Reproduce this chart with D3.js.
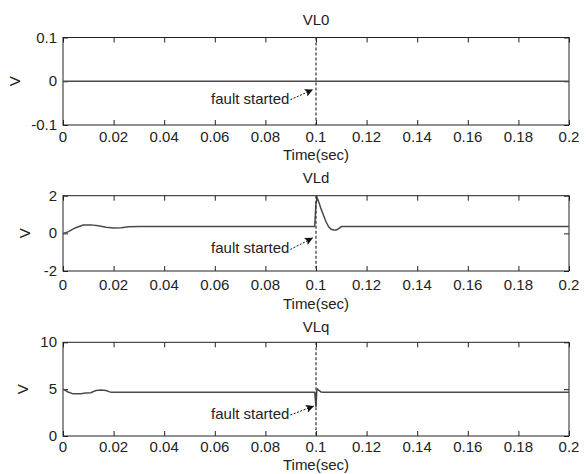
<!DOCTYPE html>
<html>
<head>
<meta charset="utf-8">
<script src="https://cdn.jsdelivr.net/npm/d3@7"></script>
<style>
    body { margin: 0; background: #fff; }
    svg text { font-family: "Liberation Sans", Arial, sans-serif; font-size: 15px; fill: #222; }
</style>
</head>
<body>
<div id="chart"></div>
<script>

// --- data ---
var xTicks = [0, 0.02, 0.04, 0.06, 0.08, 0.1, 0.12, 0.14, 0.16, 0.18, 0.2];
var faultTime = 0.1;

// VL0
var vl0Time = [0, 0.2];
var vl0Value = [0, 0];
var vl0Ticks = [-0.1, 0, 0.1];

// VLd
var vldTime = [0, 0.002, 0.005, 0.008, 0.011, 0.014, 0.017, 0.02, 0.023, 0.026, 0.03, 0.06, 0.0995,
    0.1, 0.1005, 0.101, 0.102, 0.103, 0.104, 0.105, 0.106, 0.107, 0.108, 0.109, 0.11, 0.15, 0.2];
var vldValue = [0, 0.08, 0.3, 0.44, 0.45, 0.4, 0.33, 0.29, 0.3, 0.35, 0.37, 0.37, 0.37,
    1.6, 1.87, 1.7, 1.3, 0.95, 0.6, 0.35, 0.22, 0.18, 0.18, 0.25, 0.36, 0.36, 0.36];
var vldTicks = [-2, 0, 2];

// VLq
var vlqTime = [0, 0.002, 0.004, 0.007, 0.009, 0.011, 0.013, 0.015, 0.017, 0.019, 0.021, 0.05, 0.0995,
    0.1, 0.1003, 0.1006, 0.101, 0.102, 0.103, 0.15, 0.2];
var vlqValue = [5.0, 4.7, 4.5, 4.5, 4.58, 4.62, 4.85, 4.9, 4.85, 4.66, 4.66, 4.66, 4.66,
    3.1, 4.8, 5.0, 4.9, 4.7, 4.66, 4.66, 4.66];
var vlqTicks = [0, 5, 10];

// annotation: [text x, text y, arrow tip x, arrow tip y] in data units
var vl0Note = [0.0895, -0.04, 0.0988, -0.019];
var vldNote = [0.0895, -0.8, 0.0988, -0.24];
var vlqNote = [0.0895, 2.35, 0.0992, 3.2];

var width = 587, height = 474;

var svg = d3.select("#chart").append("svg")
    .attr("width", width)
    .attr("height", height);

svg.append("defs").append("marker")
    .attr("id", "head")
    .attr("viewBox", "0 0 10 10")
    .attr("refX", 10).attr("refY", 5)
    .attr("markerWidth", 13).attr("markerHeight", 8)
    .attr("markerUnits", "userSpaceOnUse")
    .attr("orient", "auto")
    .append("path")
    .attr("d", "M0,0L10,5L0,10L2,5z")
    .attr("fill", "#111");

var x = d3.scaleLinear().domain([0, 0.2]).range([63, 569]);

// MATLAB style labels: plain hyphen, no trailing zeros
var tickText = d => String(d);

var panels = [
    { title: "VL0", time: vl0Time, value: vl0Value, ticks: vl0Ticks,
      top: 37.5, bottom: 125, titleY: 25, tickY: 142, labelY: 160, vX: 15, note: vl0Note },
    { title: "VLd", time: vldTime, value: vldValue, ticks: vldTicks,
      top: 195.7, bottom: 271, titleY: 183, tickY: 290, labelY: 309, vX: 25, note: vldNote },
    { title: "VLq", time: vlqTime, value: vlqValue, ticks: vlqTicks,
      top: 342.3, bottom: 436, titleY: 332, tickY: 452, labelY: 470, vX: 23, note: vlqNote }
];

panels.forEach(function(p) {
    var y = d3.scaleLinear()
        .domain(d3.extent(p.ticks))
        .range([p.bottom, p.top]);

    var g = svg.append("g");

    // box
    g.append("rect")
        .attr("x", x.range()[0]).attr("y", p.top)
        .attr("width", x.range()[1] - x.range()[0])
        .attr("height", p.bottom - p.top)
        .attr("fill", "none")
        .attr("stroke", "#222")
        .attr("stroke-width", 1);

    // inward ticks on all four sides
    var bottomAxis = d3.axisBottom(x).tickValues(xTicks).tickSize(-5).tickFormat("");
    var topAxis = d3.axisTop(x).tickValues(xTicks).tickSize(-5).tickFormat("");
    var leftAxis = d3.axisLeft(y).tickValues(p.ticks).tickSize(-5).tickFormat("");
    var rightAxis = d3.axisRight(y).tickValues(p.ticks).tickSize(-5).tickFormat("");

    [[bottomAxis, `translate(0,${p.bottom})`], [topAxis, `translate(0,${p.top})`],
     [leftAxis, `translate(${x.range()[0]},0)`], [rightAxis, `translate(${x.range()[1]},0)`]]
        .forEach(function(a) {
            var ax = g.append("g").attr("transform", a[1]).call(a[0]);
            ax.select(".domain").remove();
            ax.selectAll("line").attr("stroke", "#222");
        });

    // tick labels
    g.selectAll(".xlab")
        .data(xTicks)
        .enter().append("text")
        .attr("x", d => x(d))
        .attr("y", p.tickY)
        .attr("text-anchor", "middle")
        .text(tickText);

    g.selectAll(".ylab")
        .data(p.ticks)
        .enter().append("text")
        .attr("x", 57)
        .attr("y", d => y(d) + 5)
        .attr("text-anchor", "end")
        .text(tickText);

    // titles and labels
    g.append("text")
        .attr("x", x(0.1)).attr("y", p.titleY)
        .attr("text-anchor", "middle")
        .text(p.title);

    g.append("text")
        .attr("x", x(0.1)).attr("y", p.labelY)
        .attr("text-anchor", "middle")
        .text("Time(sec)");

    g.append("text")
        .attr("transform", `translate(${p.vX + 5},${(p.top + p.bottom) / 2}) rotate(-90)`)
        .attr("text-anchor", "middle")
        .text("V");

    // signal
    var line = d3.line()
        .x((d, i) => x(p.time[i]))
        .y(d => y(d));

    g.append("path")
        .datum(p.value)
        .attr("d", line)
        .attr("fill", "none")
        .attr("stroke", "#4a4a4a")
        .attr("stroke-width", 1.5);

    // fault marker
    g.append("line")
        .attr("x1", x(faultTime)).attr("x2", x(faultTime))
        .attr("y1", p.top).attr("y2", p.bottom)
        .attr("stroke", "#333")
        .attr("stroke-width", 1.2)
        .attr("stroke-dasharray", "3,2");

    g.append("text")
        .attr("x", x(p.note[0]))
        .attr("y", y(p.note[1]) + 5)
        .attr("text-anchor", "end")
        .text("fault started");

    g.append("line")
        .attr("x1", x(p.note[0]) + 1).attr("y1", y(p.note[1]) + 1)
        .attr("x2", x(p.note[2])).attr("y2", y(p.note[3]))
        .attr("stroke", "#111")
        .attr("stroke-width", 1)
        .attr("stroke-dasharray", "2,1.5")
        .attr("marker-end", "url(#head)");
});

</script>
</body>
</html>
